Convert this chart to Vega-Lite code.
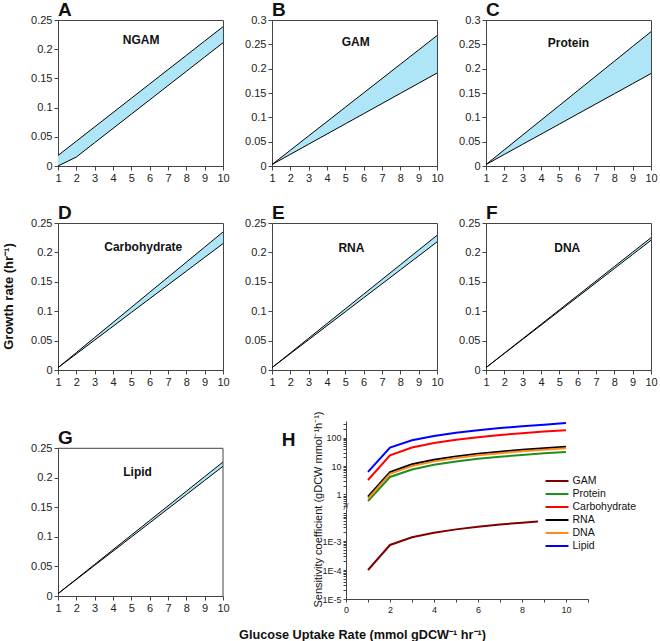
{
  "$schema": "https://vega.github.io/schema/vega-lite/v6.json",
  "padding": {"left": 1, "top": 0, "right": 0, "bottom": 0},
  "bounds": "flush",
  "columns": 3,
  "spacing": {"row": 57, "column": 49},
  "resolve": {"scale": {"color": "independent"}, "legend": {"color": "independent"}},
  "config": {
    "font": "Liberation Sans",
    "view": {"stroke": "#444", "strokeWidth": 1},
    "axis": {"grid": false, "domainColor": "#444", "tickColor": "#444", "labelColor": "#222", "labelFontSize": 11, "tickSize": 4, "labelPadding": 2, "labelOverlap": false, "tickCount": 100, "titleColor": "#111", "labelFont": "Liberation Sans", "titleFont": "Liberation Sans", "titleLimit": 400},
    "legend": {"labelFont": "Liberation Sans"},
    "text": {"font": "Liberation Sans"}
  },
  "datasets": {
    "A": [
      {"x": 1, "lo": 0, "hi": 0.018}, {"x": 2, "lo": 0.0154, "hi": 0.0425}, {"x": 3, "lo": 0.0399, "hi": 0.067}, {"x": 4, "lo": 0.0643, "hi": 0.0915}, {"x": 5, "lo": 0.0888, "hi": 0.116},
      {"x": 6, "lo": 0.1132, "hi": 0.1405}, {"x": 7, "lo": 0.1377, "hi": 0.165}, {"x": 8, "lo": 0.1621, "hi": 0.1895}, {"x": 9, "lo": 0.1866, "hi": 0.214}, {"x": 10, "lo": 0.211, "hi": 0.2385}
    ],
    "B": [
      {"x": 1, "lo": 0.003, "hi": 0.003}, {"x": 2, "lo": 0.0239, "hi": 0.0324}, {"x": 3, "lo": 0.0448, "hi": 0.0619}, {"x": 4, "lo": 0.0657, "hi": 0.0913}, {"x": 5, "lo": 0.0866, "hi": 0.1208},
      {"x": 6, "lo": 0.1074, "hi": 0.1502}, {"x": 7, "lo": 0.1283, "hi": 0.1796}, {"x": 8, "lo": 0.1492, "hi": 0.2091}, {"x": 9, "lo": 0.1701, "hi": 0.2385}, {"x": 10, "lo": 0.191, "hi": 0.268}
    ],
    "C": [
      {"x": 1, "lo": 0.003, "hi": 0.003}, {"x": 2, "lo": 0.0238, "hi": 0.0333}, {"x": 3, "lo": 0.0446, "hi": 0.0637}, {"x": 4, "lo": 0.0653, "hi": 0.094}, {"x": 5, "lo": 0.0861, "hi": 0.1243},
      {"x": 6, "lo": 0.1069, "hi": 0.1547}, {"x": 7, "lo": 0.1277, "hi": 0.185}, {"x": 8, "lo": 0.1484, "hi": 0.2153}, {"x": 9, "lo": 0.1692, "hi": 0.2457}, {"x": 10, "lo": 0.19, "hi": 0.276}
    ],
    "D": [
      {"x": 1, "lo": 0.004, "hi": 0.004}, {"x": 2, "lo": 0.0274, "hi": 0.0296}, {"x": 3, "lo": 0.0509, "hi": 0.0553}, {"x": 4, "lo": 0.0743, "hi": 0.0809}, {"x": 5, "lo": 0.0978, "hi": 0.1065},
      {"x": 6, "lo": 0.1212, "hi": 0.1322}, {"x": 7, "lo": 0.1447, "hi": 0.1578}, {"x": 8, "lo": 0.1681, "hi": 0.1834}, {"x": 9, "lo": 0.1916, "hi": 0.2091}, {"x": 10, "lo": 0.215, "hi": 0.2347}
    ],
    "E": [
      {"x": 1, "lo": 0.004, "hi": 0.004}, {"x": 2, "lo": 0.0278, "hi": 0.029}, {"x": 3, "lo": 0.0515, "hi": 0.054}, {"x": 4, "lo": 0.0753, "hi": 0.079}, {"x": 5, "lo": 0.099, "hi": 0.104},
      {"x": 6, "lo": 0.1228, "hi": 0.129}, {"x": 7, "lo": 0.1465, "hi": 0.154}, {"x": 8, "lo": 0.1703, "hi": 0.179}, {"x": 9, "lo": 0.194, "hi": 0.204}, {"x": 10, "lo": 0.2178, "hi": 0.229}
    ],
    "F": [
      {"x": 1, "lo": 0.004, "hi": 0.004}, {"x": 2, "lo": 0.0281, "hi": 0.0286}, {"x": 3, "lo": 0.0521, "hi": 0.0531}, {"x": 4, "lo": 0.0762, "hi": 0.0777}, {"x": 5, "lo": 0.1003, "hi": 0.1022},
      {"x": 6, "lo": 0.1243, "hi": 0.1268}, {"x": 7, "lo": 0.1484, "hi": 0.1513}, {"x": 8, "lo": 0.1725, "hi": 0.1759}, {"x": 9, "lo": 0.1965, "hi": 0.2004}, {"x": 10, "lo": 0.2206, "hi": 0.225}
    ],
    "G": [
      {"x": 1, "lo": 0.004, "hi": 0.004}, {"x": 2, "lo": 0.0279, "hi": 0.0288}, {"x": 3, "lo": 0.0519, "hi": 0.0535}, {"x": 4, "lo": 0.0758, "hi": 0.0783}, {"x": 5, "lo": 0.0998, "hi": 0.103},
      {"x": 6, "lo": 0.1237, "hi": 0.1278}, {"x": 7, "lo": 0.1477, "hi": 0.1525}, {"x": 8, "lo": 0.1716, "hi": 0.1773}, {"x": 9, "lo": 0.1956, "hi": 0.2021}, {"x": 10, "lo": 0.2195, "hi": 0.2268}
    ],
    "sens": [
      {"series": "GAM", "x": 1, "v": 0.0001}, {"series": "GAM", "x": 2, "v": 0.00073}, {"series": "GAM", "x": 3, "v": 0.00135}, {"series": "GAM", "x": 4, "v": 0.00193}, {"series": "GAM", "x": 5, "v": 0.00252},
      {"series": "GAM", "x": 6, "v": 0.0031}, {"series": "GAM", "x": 7, "v": 0.0037}, {"series": "GAM", "x": 8, "v": 0.0043}, {"series": "GAM", "x": 9, "v": 0.0049}, {"series": "GAM", "x": 10, "v": 0.0055},
      {"series": "Protein", "x": 1, "v": 0.57}, {"series": "Protein", "x": 2, "v": 4.1}, {"series": "Protein", "x": 3, "v": 7.5}, {"series": "Protein", "x": 4, "v": 11}, {"series": "Protein", "x": 5, "v": 14.4},
      {"series": "Protein", "x": 6, "v": 17.9}, {"series": "Protein", "x": 7, "v": 21.3}, {"series": "Protein", "x": 8, "v": 24.7}, {"series": "Protein", "x": 9, "v": 28.2}, {"series": "Protein", "x": 10, "v": 31.6},
      {"series": "Carbohydrate", "x": 1, "v": 3.2}, {"series": "Carbohydrate", "x": 2, "v": 24}, {"series": "Carbohydrate", "x": 3, "v": 45}, {"series": "Carbohydrate", "x": 4, "v": 65}, {"series": "Carbohydrate", "x": 5, "v": 85},
      {"series": "Carbohydrate", "x": 6, "v": 105}, {"series": "Carbohydrate", "x": 7, "v": 125}, {"series": "Carbohydrate", "x": 8, "v": 145}, {"series": "Carbohydrate", "x": 9, "v": 165}, {"series": "Carbohydrate", "x": 10, "v": 185},
      {"series": "RNA", "x": 1, "v": 0.82}, {"series": "RNA", "x": 2, "v": 6.1}, {"series": "RNA", "x": 3, "v": 11.5}, {"series": "RNA", "x": 4, "v": 16.7}, {"series": "RNA", "x": 5, "v": 21.9},
      {"series": "RNA", "x": 6, "v": 27}, {"series": "RNA", "x": 7, "v": 32.2}, {"series": "RNA", "x": 8, "v": 37.4}, {"series": "RNA", "x": 9, "v": 42.5}, {"series": "RNA", "x": 10, "v": 47.6},
      {"series": "DNA", "x": 1, "v": 0.7}, {"series": "DNA", "x": 2, "v": 5.3}, {"series": "DNA", "x": 3, "v": 10}, {"series": "DNA", "x": 4, "v": 14.6}, {"series": "DNA", "x": 5, "v": 19.2},
      {"series": "DNA", "x": 6, "v": 23.9}, {"series": "DNA", "x": 7, "v": 28.5}, {"series": "DNA", "x": 8, "v": 33.2}, {"series": "DNA", "x": 9, "v": 37.8}, {"series": "DNA", "x": 10, "v": 42.5},
      {"series": "Lipid", "x": 1, "v": 6.2}, {"series": "Lipid", "x": 2, "v": 45}, {"series": "Lipid", "x": 3, "v": 81}, {"series": "Lipid", "x": 4, "v": 115}, {"series": "Lipid", "x": 5, "v": 150},
      {"series": "Lipid", "x": 6, "v": 185}, {"series": "Lipid", "x": 7, "v": 220}, {"series": "Lipid", "x": 8, "v": 255}, {"series": "Lipid", "x": 9, "v": 290}, {"series": "Lipid", "x": 10, "v": 330}
    ]
  },
  "concat": [
    {
      "width": 165, "height": 146,
      "data": {"name": "A"},
      "layer": [
        {"mark": {"type": "area", "color": "#aee6f7", "opacity": 1}, "encoding": {
          "x": {"field": "x", "type": "quantitative", "scale": {"domain": [1, 10], "nice": false}, "axis": {"values": [1,2,3,4,5,6,7,8,9,10], "tickCount": 100, "format": "d", "title": null, "labelFlush": false, "labelOverlap": false}},
          "y": {"field": "lo", "type": "quantitative", "scale": {"domain": [0, 0.25], "nice": false}, "axis": {"values": [0,0.05,0.1,0.15,0.2,0.25], "tickCount": 100, "format": "~g", "title": null, "labelOverlap": false}},
          "y2": {"field": "hi"}}},
        {"mark": {"type": "line", "color": "#000", "strokeWidth": 1}, "encoding": {"x": {"field": "x", "type": "quantitative"}, "y": {"field": "lo", "type": "quantitative"}}},
        {"mark": {"type": "line", "color": "#000", "strokeWidth": 1}, "encoding": {"x": {"field": "x", "type": "quantitative"}, "y": {"field": "hi", "type": "quantitative"}}},
        {"data": {"values": [{"label": "NGAM"}]}, "mark": {"type": "text", "fontSize": 12, "fontWeight": "bold", "color": "#111"}, "encoding": {"x": {"datum": 5.53}, "y": {"datum": 0.216}, "text": {"field": "label"}}},
        {"data": {"values": [{"label": "A"}]}, "mark": {"type": "text", "fontSize": 19, "fontWeight": "bold", "color": "#111", "align": "left", "baseline": "alphabetic", "dy": -4}, "encoding": {"x": {"datum": 1}, "y": {"datum": 0.25}, "text": {"field": "label"}}}
      ]
    },
    {
      "width": 165, "height": 146,
      "data": {"name": "B"},
      "layer": [
        {"mark": {"type": "area", "color": "#aee6f7", "opacity": 1}, "encoding": {
          "x": {"field": "x", "type": "quantitative", "scale": {"domain": [1, 10], "nice": false}, "axis": {"values": [1,2,3,4,5,6,7,8,9,10], "tickCount": 100, "format": "d", "title": null, "labelFlush": false, "labelOverlap": false}},
          "y": {"field": "lo", "type": "quantitative", "scale": {"domain": [0, 0.3], "nice": false}, "axis": {"values": [0,0.05,0.1,0.15,0.2,0.25,0.3], "tickCount": 100, "format": "~g", "title": null, "labelOverlap": false}},
          "y2": {"field": "hi"}}},
        {"mark": {"type": "line", "color": "#000", "strokeWidth": 1}, "encoding": {"x": {"field": "x", "type": "quantitative"}, "y": {"field": "lo", "type": "quantitative"}}},
        {"mark": {"type": "line", "color": "#000", "strokeWidth": 1}, "encoding": {"x": {"field": "x", "type": "quantitative"}, "y": {"field": "hi", "type": "quantitative"}}},
        {"data": {"values": [{"label": "GAM"}]}, "mark": {"type": "text", "fontSize": 12, "fontWeight": "bold", "color": "#111"}, "encoding": {"x": {"datum": 5.57}, "y": {"datum": 0.255}, "text": {"field": "label"}}},
        {"data": {"values": [{"label": "B"}]}, "mark": {"type": "text", "fontSize": 19, "fontWeight": "bold", "color": "#111", "align": "left", "baseline": "alphabetic", "dy": -4}, "encoding": {"x": {"datum": 1}, "y": {"datum": 0.3}, "text": {"field": "label"}}}
      ]
    },
    {
      "width": 165, "height": 146,
      "data": {"name": "C"},
      "layer": [
        {"mark": {"type": "area", "color": "#aee6f7", "opacity": 1}, "encoding": {
          "x": {"field": "x", "type": "quantitative", "scale": {"domain": [1, 10], "nice": false}, "axis": {"values": [1,2,3,4,5,6,7,8,9,10], "tickCount": 100, "format": "d", "title": null, "labelFlush": false, "labelOverlap": false}},
          "y": {"field": "lo", "type": "quantitative", "scale": {"domain": [0, 0.3], "nice": false}, "axis": {"values": [0,0.05,0.1,0.15,0.2,0.25,0.3], "tickCount": 100, "format": "~g", "title": null, "labelOverlap": false}},
          "y2": {"field": "hi"}}},
        {"mark": {"type": "line", "color": "#000", "strokeWidth": 1}, "encoding": {"x": {"field": "x", "type": "quantitative"}, "y": {"field": "lo", "type": "quantitative"}}},
        {"mark": {"type": "line", "color": "#000", "strokeWidth": 1}, "encoding": {"x": {"field": "x", "type": "quantitative"}, "y": {"field": "hi", "type": "quantitative"}}},
        {"data": {"values": [{"label": "Protein"}]}, "mark": {"type": "text", "fontSize": 12, "fontWeight": "bold", "color": "#111"}, "encoding": {"x": {"datum": 5.5}, "y": {"datum": 0.253}, "text": {"field": "label"}}},
        {"data": {"values": [{"label": "C"}]}, "mark": {"type": "text", "fontSize": 19, "fontWeight": "bold", "color": "#111", "align": "left", "baseline": "alphabetic", "dy": -4}, "encoding": {"x": {"datum": 1}, "y": {"datum": 0.3}, "text": {"field": "label"}}}
      ]
    },
    {
      "width": 165, "height": 147,
      "data": {"name": "D"},
      "layer": [
        {"mark": {"type": "area", "color": "#aee6f7", "opacity": 1}, "encoding": {
          "x": {"field": "x", "type": "quantitative", "scale": {"domain": [1, 10], "nice": false}, "axis": {"values": [1,2,3,4,5,6,7,8,9,10], "tickCount": 100, "format": "d", "title": null, "labelFlush": false, "labelOverlap": false}},
          "y": {"field": "lo", "type": "quantitative", "scale": {"domain": [0, 0.25], "nice": false}, "axis": {"values": [0,0.05,0.1,0.15,0.2,0.25], "tickCount": 100, "format": "~g", "labelOverlap": false, "title": "Growth rate (hr⁻¹)", "titleFontSize": 13, "titleFontWeight": "bold", "titleX": -43, "titleY": 73, "titleAngle": -90, "titleAlign": "center", "titleBaseline": "bottom"}},
          "y2": {"field": "hi"}}},
        {"mark": {"type": "line", "color": "#000", "strokeWidth": 1}, "encoding": {"x": {"field": "x", "type": "quantitative"}, "y": {"field": "lo", "type": "quantitative"}}},
        {"mark": {"type": "line", "color": "#000", "strokeWidth": 1}, "encoding": {"x": {"field": "x", "type": "quantitative"}, "y": {"field": "hi", "type": "quantitative"}}},
        {"data": {"values": [{"label": "Carbohydrate"}]}, "mark": {"type": "text", "fontSize": 12, "fontWeight": "bold", "color": "#111"}, "encoding": {"x": {"datum": 5.65}, "y": {"datum": 0.209}, "text": {"field": "label"}}},
        {"data": {"values": [{"label": "D"}]}, "mark": {"type": "text", "fontSize": 19, "fontWeight": "bold", "color": "#111", "align": "left", "baseline": "alphabetic", "dy": -4}, "encoding": {"x": {"datum": 1}, "y": {"datum": 0.25}, "text": {"field": "label"}}}
      ]
    },
    {
      "width": 165, "height": 147,
      "data": {"name": "E"},
      "layer": [
        {"mark": {"type": "area", "color": "#aee6f7", "opacity": 1}, "encoding": {
          "x": {"field": "x", "type": "quantitative", "scale": {"domain": [1, 10], "nice": false}, "axis": {"values": [1,2,3,4,5,6,7,8,9,10], "tickCount": 100, "format": "d", "title": null, "labelFlush": false, "labelOverlap": false}},
          "y": {"field": "lo", "type": "quantitative", "scale": {"domain": [0, 0.25], "nice": false}, "axis": {"values": [0,0.05,0.1,0.15,0.2,0.25], "tickCount": 100, "format": "~g", "title": null, "labelOverlap": false}},
          "y2": {"field": "hi"}}},
        {"mark": {"type": "line", "color": "#000", "strokeWidth": 1}, "encoding": {"x": {"field": "x", "type": "quantitative"}, "y": {"field": "lo", "type": "quantitative"}}},
        {"mark": {"type": "line", "color": "#000", "strokeWidth": 1}, "encoding": {"x": {"field": "x", "type": "quantitative"}, "y": {"field": "hi", "type": "quantitative"}}},
        {"data": {"values": [{"label": "RNA"}]}, "mark": {"type": "text", "fontSize": 12, "fontWeight": "bold", "color": "#111"}, "encoding": {"x": {"datum": 5.33}, "y": {"datum": 0.208}, "text": {"field": "label"}}},
        {"data": {"values": [{"label": "E"}]}, "mark": {"type": "text", "fontSize": 19, "fontWeight": "bold", "color": "#111", "align": "left", "baseline": "alphabetic", "dy": -4}, "encoding": {"x": {"datum": 1}, "y": {"datum": 0.25}, "text": {"field": "label"}}}
      ]
    },
    {
      "width": 165, "height": 147,
      "data": {"name": "F"},
      "layer": [
        {"mark": {"type": "area", "color": "#aee6f7", "opacity": 1}, "encoding": {
          "x": {"field": "x", "type": "quantitative", "scale": {"domain": [1, 10], "nice": false}, "axis": {"values": [1,2,3,4,5,6,7,8,9,10], "tickCount": 100, "format": "d", "title": null, "labelFlush": false, "labelOverlap": false}},
          "y": {"field": "lo", "type": "quantitative", "scale": {"domain": [0, 0.25], "nice": false}, "axis": {"values": [0,0.05,0.1,0.15,0.2,0.25], "tickCount": 100, "format": "~g", "title": null, "labelOverlap": false}},
          "y2": {"field": "hi"}}},
        {"mark": {"type": "line", "color": "#000", "strokeWidth": 1}, "encoding": {"x": {"field": "x", "type": "quantitative"}, "y": {"field": "lo", "type": "quantitative"}}},
        {"mark": {"type": "line", "color": "#000", "strokeWidth": 1}, "encoding": {"x": {"field": "x", "type": "quantitative"}, "y": {"field": "hi", "type": "quantitative"}}},
        {"data": {"values": [{"label": "DNA"}]}, "mark": {"type": "text", "fontSize": 12, "fontWeight": "bold", "color": "#111"}, "encoding": {"x": {"datum": 5.43}, "y": {"datum": 0.208}, "text": {"field": "label"}}},
        {"data": {"values": [{"label": "F"}]}, "mark": {"type": "text", "fontSize": 19, "fontWeight": "bold", "color": "#111", "align": "left", "baseline": "alphabetic", "dy": -4}, "encoding": {"x": {"datum": 1}, "y": {"datum": 0.25}, "text": {"field": "label"}}}
      ]
    },
    {
      "width": 165, "height": 169,
      "view": {"stroke": null},
      "data": {"name": "G"},
      "layer": [
        {"mark": {"type": "area", "color": "#aee6f7", "opacity": 1}, "encoding": {
          "x": {"field": "x", "type": "quantitative", "scale": {"domain": [1, 10], "nice": false}, "axis": {"values": [1,2,3,4,5,6,7,8,9,10], "tickCount": 100, "format": "d", "title": null, "labelFlush": false, "labelOverlap": false}},
          "y": {"field": "lo", "type": "quantitative", "scale": {"domain": [0, 0.25], "nice": false, "range": [169, 21.3]}, "axis": {"values": [0,0.05,0.1,0.15,0.2,0.25], "tickCount": 100, "format": "~g", "title": null, "labelOverlap": false}},
          "y2": {"field": "hi"}}},
        {"mark": {"type": "line", "color": "#000", "strokeWidth": 1}, "encoding": {"x": {"field": "x", "type": "quantitative"}, "y": {"field": "lo", "type": "quantitative"}}},
        {"mark": {"type": "line", "color": "#000", "strokeWidth": 1}, "encoding": {"x": {"field": "x", "type": "quantitative"}, "y": {"field": "hi", "type": "quantitative"}}},
        {"data": {"values": [{"label": "Lipid"}]}, "mark": {"type": "text", "fontSize": 12, "fontWeight": "bold", "color": "#111"}, "encoding": {"x": {"datum": 5.34}, "y": {"datum": 0.21}, "text": {"field": "label"}}},
        {"data": {"values": [{"label": "G"}]}, "mark": {"type": "text", "fontSize": 19, "fontWeight": "bold", "color": "#111", "align": "left", "baseline": "alphabetic", "dy": -4}, "encoding": {"x": {"datum": 1}, "y": {"datum": 0.25}, "text": {"field": "label"}}},
        {"data": {"values": [{"edge": "top"}]}, "mark": {"type": "rule", "color": "#444", "strokeWidth": 1}, "encoding": {"x": {"datum": 1}, "x2": {"datum": 10}, "y": {"datum": 0.25}}},
        {"data": {"values": [{"edge": "right"}]}, "mark": {"type": "rule", "color": "#444", "strokeWidth": 1}, "encoding": {"x": {"datum": 10}, "y": {"datum": 0}, "y2": {"datum": 0.25}}}
      ]
    },
    {
      "width": 165, "height": 172,
      "view": {"stroke": null},
      "data": {"name": "sens"},
      "layer": [
        {
          "layer": [
            {
              "transform": [{"filter": "datum.series !== 'GAM'"}],
              "mark": {"type": "line", "strokeWidth": 2},
              "encoding": {
                "x": {"field": "x", "type": "quantitative", "scale": {"domain": [0, 11], "nice": false, "range": [74, 316]}, "axis": {"values": [0,1,2,3,4,5,6,7,8,9,10,11], "tickCount": 100, "format": "d", "labelExpr": "datum.value % 2 === 0 && datum.value <= 10 ? datum.label : ''", "labelFlush": false, "labelOverlap": false, "labelFontSize": 9, "tickSize": 3, "labelPadding": 3, "title": "Glucose Uptake Rate (mmol gDCW⁻¹ hr⁻¹)", "titleFontSize": 12.7, "titleFontWeight": "bold", "titleX": 90, "titleY": 39, "titleAlign": "center", "titleBaseline": "alphabetic"}},
                "y": {"field": "v", "type": "quantitative", "scale": {"type": "log", "domain": [0.327, 391], "nice": false, "range": [81, -6]}, "axis": {"orient": "left", "offset": -74, "values": [0.4,0.5,0.6,0.7,0.8,0.9,1,2,3,4,5,6,7,8,9,10,20,30,40,50,60,70,80,90,100,200,300], "tickCount": 100, "labelExpr": "datum.value === 1 || datum.value === 10 || datum.value === 100 ? datum.label : ''", "format": "d", "labelOverlap": false, "labelFontSize": 9, "tickSize": 3, "title": "Sensitivity coefficient (gDCW mmol⁻¹h⁻¹)", "titleFontSize": 11, "titleFontWeight": "normal", "titleX": -23, "titleY": 82, "titleAngle": -90, "titleAlign": "center", "titleBaseline": "bottom"}},
                "color": {"field": "series", "type": "nominal", "scale": {"domain": ["GAM", "Protein", "Carbohydrate", "RNA", "DNA", "Lipid"], "range": ["#800000", "#1f8f1f", "#ff0000", "#000000", "#ff8c1a", "#0000ff"]},
                  "legend": {"orient": "none", "legendX": 266, "legendY": 35, "title": null, "symbolType": "M-2,0H2", "symbolStrokeWidth": 2, "symbolSize": 132, "labelFontSize": 10.5, "labelOffset": 8.5, "fillColor": "white", "padding": 12, "rowPadding": 0, "labelColor": "#111"}}
              }
            },
            {
              "data": {"values": [{"label": "H"}]},
              "mark": {"type": "text", "fontSize": 19, "fontWeight": "bold", "color": "#111", "align": "left", "baseline": "alphabetic"},
              "encoding": {"x": {"datum": -2.92}, "y": {"datum": 51}, "text": {"field": "label"}}
            },
            {
              "data": {"values": [{"label": "//"}]},
              "mark": {"type": "text", "fontSize": 9, "color": "#444", "align": "center", "baseline": "middle"},
              "encoding": {"x": {"datum": 0}, "y": {"datum": 0.35}, "text": {"field": "label"}}
            }
          ]
        },
        {
          "transform": [{"filter": "datum.series === 'GAM'"}],
          "mark": {"type": "line", "strokeWidth": 2},
          "encoding": {
            "x": {"field": "x", "type": "quantitative", "scale": {"domain": [0, 11], "nice": false, "range": [74, 316]}},
            "y": {"field": "v", "type": "quantitative", "scale": {"type": "log", "domain": [0.00001, 0.0127], "nice": false, "range": [172, 82]}, "axis": {"orient": "left", "offset": -74, "values": [0.00001,0.00002,0.00003,0.00004,0.00005,0.00006,0.00007,0.00008,0.00009,0.0001,0.0002,0.0003,0.0004,0.0005,0.0006,0.0007,0.0008,0.0009,0.001,0.002,0.003,0.004,0.005,0.006,0.007,0.008,0.009], "tickCount": 100, "labelExpr": "datum.value === 0.00001 ? '1E-5' : datum.value === 0.0001 ? '1E-4' : datum.value === 0.001 ? '1E-3' : ''", "labelOverlap": false, "labelFontSize": 9, "tickSize": 3, "title": null}},
            "color": {"field": "series", "type": "nominal"}
          }
        }
      ],
      "resolve": {"scale": {"y": "independent"}, "axis": {"y": "independent"}}
    }
  ]
}
